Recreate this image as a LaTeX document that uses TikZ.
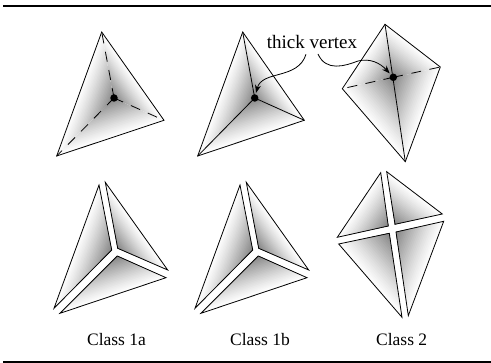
\documentclass[tikz,border=0pt]{standalone}
\usepackage{fontspec}
\setmainfont{Liberation Serif}
\usetikzlibrary{calc,arrows.meta}
\newcommand\fade[3]{%
  \foreach \i in {24,23,...,1}{%
    \pgfmathsetmacro\tt{\i/24}%
    \pgfmathsetmacro\gg{48*(1-\tt)^1.2+1}%
    \fill[black!\gg!white] (#1) -- ($(#1)!\tt!(#2)$) -- ($(#1)!\tt!(#3)$) -- cycle;
  }%
}
\newcommand\facet[3]{%
  \fade{#1}{#2}{#3}%
  \draw[edge] (#1) -- (#2) -- (#3) -- cycle;
}
\tikzset{
  x=1pt,y=-1pt,
  edge/.style={line width=0.8pt,line join=miter},
  dashedge/.style={line width=0.8pt,dash pattern=on 10pt off 8.5pt},
  rulebar/.style={line width=2.2pt},
  vertexdot/.style={circle,fill=black,inner sep=0pt,minimum size=7.5pt,outer sep=1.5pt},
  caption/.style={font=\fontsize{17.5}{20}\selectfont,inner sep=0pt},
  callout/.style={font=\fontsize{19}{22}\selectfont,inner sep=0pt},
  pointer/.style={line width=0.8pt,-{Stealth[length=8pt,width=6pt]}},
}
\begin{document}
\begin{tikzpicture}
\useasboundingbox (0,0) rectangle (491,363);
\coordinate (rtl) at (3,5.7); \coordinate (rtr) at (491,5.7);
\coordinate (rbl) at (3,361.7); \coordinate (rbr) at (491,361.7);
\draw[rulebar] (rtl) -- (rtr);
\draw[rulebar] (rbl) -- (rbr);

% --- top left: class 1a
\coordinate (aT) at (101.7,32); \coordinate (aL) at (56.7,156);
\coordinate (aR) at (164,120.3); \coordinate (aC) at (114,98);
\fade{aC}{aT}{aL}\fade{aC}{aL}{aR}\fade{aC}{aR}{aT}
\draw[edge] (aT) -- (aL) -- (aR) -- cycle;
\draw[dashedge] (aC) -- (aT);
\draw[dashedge] (aC) -- (aL);
\draw[dashedge] (aC) -- (aR);
\node[vertexdot] (dota) at (aC) {};

% --- top middle: class 1b
\coordinate (bT) at (242.7,32); \coordinate (bL) at (197.7,156);
\coordinate (bR) at (304.3,120.3); \coordinate (bC) at (254.7,98);
\fade{bC}{bT}{bL}\fade{bC}{bL}{bR}\fade{bC}{bR}{bT}
\draw[edge] (bT) -- (bL) -- (bR) -- cycle;
\draw[edge] (bC) -- (bT);
\draw[edge] (bC) -- (bL);
\draw[edge] (bC) -- (bR);
\node[vertexdot] (dotb) at (bC) {};

% --- top right: class 2
\coordinate (cT) at (385,24.3); \coordinate (cR) at (440.3,67);
\coordinate (cB) at (405.3,161.7); \coordinate (cL) at (342.3,88.7);
\coordinate (cC) at (393.3,77.3);
\fade{cC}{cT}{cL}\fade{cC}{cL}{cB}\fade{cC}{cB}{cR}\fade{cC}{cR}{cT}
\draw[edge] (cT) -- (cL) -- (cB) -- (cR) -- cycle;
\draw[edge] (cT) -- (cB);
\draw[dashedge] (cC) -- (cL);
\draw[dashedge] (cC) -- (cR);
\node[vertexdot] (dotc) at (cC) {};

% --- callout
\node[callout] (thick) at (312,42) {thick vertex};
\coordinate (p1) at (306,54.3);
\coordinate (p2) at (318,54);
\draw[pointer] (p1) .. controls (298,80) and (262,70) .. (dotb);
\draw[pointer] (p2) .. controls (326,72) and (345,66) .. (358,61) .. controls (370,58) and (380,63) .. (dotc);

% --- bottom left: pieces
\coordinate (d1i) at (111.7,250); \coordinate (d1a) at (99,185);    \coordinate (d1b) at (54,308.3);
\coordinate (d2i) at (117.7,248.3); \coordinate (d2a) at (105.3,182.3); \coordinate (d2b) at (167.7,270);
\coordinate (d3i) at (117.3,256); \coordinate (d3a) at (166,277.7); \coordinate (d3b) at (60,313.3);
\facet{d1i}{d1a}{d1b}\facet{d2i}{d2a}{d2b}\facet{d3i}{d3a}{d3b}

% --- bottom middle: pieces
\begin{scope}[xshift=141pt]
\coordinate (e1i) at (111.7,250); \coordinate (e1a) at (99,185);    \coordinate (e1b) at (54,308.3);
\coordinate (e2i) at (117.7,248.3); \coordinate (e2a) at (105.3,182.3); \coordinate (e2b) at (167.7,270);
\coordinate (e3i) at (117.3,256); \coordinate (e3a) at (166,277.7); \coordinate (e3b) at (60,313.3);
\facet{e1i}{e1a}{e1b}\facet{e2i}{e2a}{e2b}\facet{e3i}{e3a}{e3b}
\end{scope}

% --- bottom right: pieces
\coordinate (f1i) at (388.3,226); \coordinate (f1a) at (380.7,172.7); \coordinate (f1b) at (337.3,237.3);
\coordinate (f2i) at (395,224.3); \coordinate (f2a) at (386.7,171.7); \coordinate (f2b) at (442.3,214);
\coordinate (f3i) at (389.3,233.3); \coordinate (f3a) at (338.7,244); \coordinate (f3b) at (402,317.3);
\coordinate (f4i) at (396,232); \coordinate (f4a) at (443.7,221.3); \coordinate (f4b) at (408.3,315.7);
\facet{f1i}{f1a}{f1b}\facet{f2i}{f2a}{f2b}\facet{f3i}{f3a}{f3b}\facet{f4i}{f4a}{f4b}

% --- captions
\node[caption] (cap1) at (116.5,340) {Class 1a};
\node[caption] (cap2) at (260,340) {Class 1b};
\node[caption] (cap3) at (401.7,340) {Class 2};
\end{tikzpicture}
\end{document}
